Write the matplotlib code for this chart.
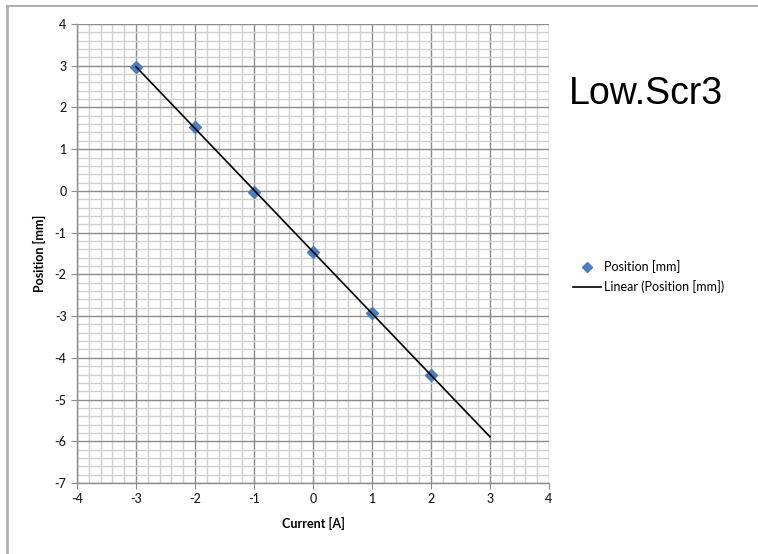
import numpy as np
import matplotlib
matplotlib.use("Agg")
import matplotlib.pyplot as plt
from matplotlib.ticker import MultipleLocator
from matplotlib.lines import Line2D

plt.rcParams["axes.unicode_minus"] = False

current = [-3, -2, -1, 0, 1, 2]
position = [2.98, 1.52, -0.02, -1.46, -2.93, -4.41]
trend_x = [-3, 3]
x_ticks = [-4, -3, -2, -1, 0, 1, 2, 3, 4]
y_ticks = [-7, -6, -5, -4, -3, -2, -1, 0, 1, 2, 3, 4]

W, H = 758, 554
fig = plt.figure(figsize=(W / 100, H / 100), dpi=100)
fig.patch.set_facecolor("white")

# outer chart frame (top and left edges visible)
fig.add_artist(Line2D([7 / W, 7 / W], [0, 1 - 6 / H], transform=fig.transFigure,
                      color="#b0b0b0", lw=2))
fig.add_artist(Line2D([7 / W, 1], [1 - 6 / H, 1 - 6 / H], transform=fig.transFigure,
                      color="#b0b0b0", lw=1.5))

ax = fig.add_axes([77 / W, 1 - 483 / H, (549 - 77) / W, (483 - 24) / H])
ax.set_xlim(-4, 4)
ax.set_ylim(-7, 4)
ax.set_xticks(x_ticks)
ax.set_yticks(y_ticks)
ax.xaxis.set_minor_locator(MultipleLocator(0.2))
ax.yaxis.set_minor_locator(MultipleLocator(0.2))
ax.grid(which="minor", color="#cfcfcf", lw=1.0)
ax.grid(which="major", color="#8c8c8c", lw=1.0)
ax.set_axisbelow(True)
ax.tick_params(which="minor", length=0)
ax.tick_params(which="major", length=4, color="#8c8c8c", labelsize=9, labelcolor="#1a1a1a")
for s in ["top", "right"]:
    ax.spines[s].set_visible(False)
for s in ["left", "bottom"]:
    ax.spines[s].set_color("#8c8c8c")
    ax.spines[s].set_linewidth(1.0)
for lab in ax.get_xticklabels() + ax.get_yticklabels():
    lab.set_family("Lato")
    lab.set_fontweight("medium")

coef = np.polyfit(current, position, 1)
tx = np.array(trend_x)
ax.plot(current, position, linestyle="none", marker="D", markersize=6.5,
        color="#4a7ebb", label="Position [mm]", zorder=3)
ax.plot(tx, np.polyval(coef, tx), color="black", lw=1.2,
        label="Linear (Position [mm])", zorder=4)

ax.set_xlabel("Current [A]", fontsize=9, fontweight="bold", family="Lato", labelpad=8)
ax.set_ylabel("Position [mm]", fontsize=9, fontweight="bold", family="Lato", labelpad=6)

fig.text(646 / W, 1 - 94 / H, "Low.Scr3", fontsize=27, family="Liberation Sans",
         ha="center", va="center", color="black")

leg = ax.legend(loc="upper left", bbox_to_anchor=(568 / W, 1 - 255 / H),
                bbox_transform=fig.transFigure, frameon=False,
                prop={"family": "Lato", "size": 9}, handlelength=2.2,
                handletextpad=0.3, labelspacing=0.6, borderaxespad=0,
                markerscale=0.75)

fig.savefig("out.png", dpi=100)
